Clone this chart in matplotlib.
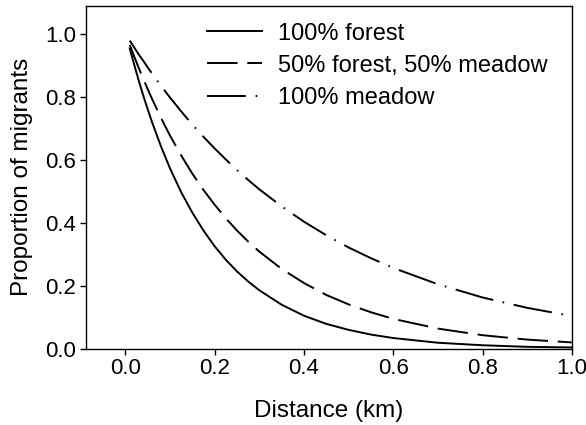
import matplotlib
matplotlib.use('Agg')
import matplotlib.pyplot as plt

plt.rcParams['font.family'] = ['Liberation Sans', 'DejaVu Sans']
plt.rcParams['lines.scale_dashes'] = False

# values
distance = [0.01, 0.02, 0.03, 0.04, 0.05, 0.06, 0.08, 0.1, 0.125, 0.15, 0.175,
            0.2, 0.225, 0.25, 0.275, 0.3, 0.35, 0.4, 0.45, 0.5, 0.55, 0.6,
            0.7, 0.8, 0.9, 1.0]
forest = [0.955, 0.903, 0.853, 0.806, 0.762, 0.720, 0.643, 0.574, 0.498, 0.433, 0.376,
          0.326, 0.283, 0.246, 0.214, 0.186, 0.140, 0.105, 0.079, 0.060, 0.045, 0.034,
          0.019, 0.011, 0.006, 0.004]
mixed = [0.966, 0.929, 0.893, 0.859, 0.826, 0.794, 0.734, 0.678, 0.615, 0.557, 0.505,
         0.458, 0.415, 0.376, 0.341, 0.309, 0.254, 0.209, 0.171, 0.141, 0.116, 0.095,
         0.064, 0.043, 0.029, 0.020]
meadow = [0.980, 0.958, 0.936, 0.916, 0.895, 0.875, 0.836, 0.799, 0.755, 0.713, 0.674,
          0.637, 0.602, 0.568, 0.537, 0.507, 0.453, 0.404, 0.361, 0.322, 0.288, 0.257,
          0.205, 0.163, 0.130, 0.104]

labels = ['100% forest', '50% forest, 50% meadow', '100% meadow']
x_ticks = [0.0, 0.2, 0.4, 0.6, 0.8, 1.0]
y_ticks = [0.0, 0.2, 0.4, 0.6, 0.8, 1.0]

fig = plt.figure(figsize=(5.86, 4.25), dpi=100)
ax = fig.add_axes([0.1468, 0.1795, 0.829, 0.8064])

ax.plot(distance, forest, color='black', lw=1.4, label=labels[0])
ax.plot(distance, mixed, color='black', lw=1.4, dashes=(22, 7), label=labels[1])
ax.plot(distance, meadow, color='black', lw=1.4, dashes=(28, 7, 1.2, 7), label=labels[2])

ax.set_xlim(-0.088, 1.0)
ax.set_ylim(0, 1.09)
ax.set_xticks(x_ticks)
ax.set_yticks(y_ticks)
ax.set_xticklabels([f'{t:.1f}' for t in x_ticks])
ax.set_yticklabels([f'{t:.1f}' for t in y_ticks])
ax.tick_params(direction='out', length=4, width=1, labelsize=16, pad=3,
               top=False, right=False)
for s in ax.spines.values():
    s.set_linewidth(1)

ax.set_xlabel('Distance (km)', fontsize=17.5, labelpad=15)
ax.set_ylabel('Proportion of migrants', fontsize=17.5, labelpad=9)

ax.legend(loc='upper left', bbox_to_anchor=(0.215, 1.0), frameon=False,
          fontsize=17, handlelength=2.35, handletextpad=0.65, labelspacing=0.43,
          borderaxespad=0.3)

fig.savefig('out.png', dpi=100)
